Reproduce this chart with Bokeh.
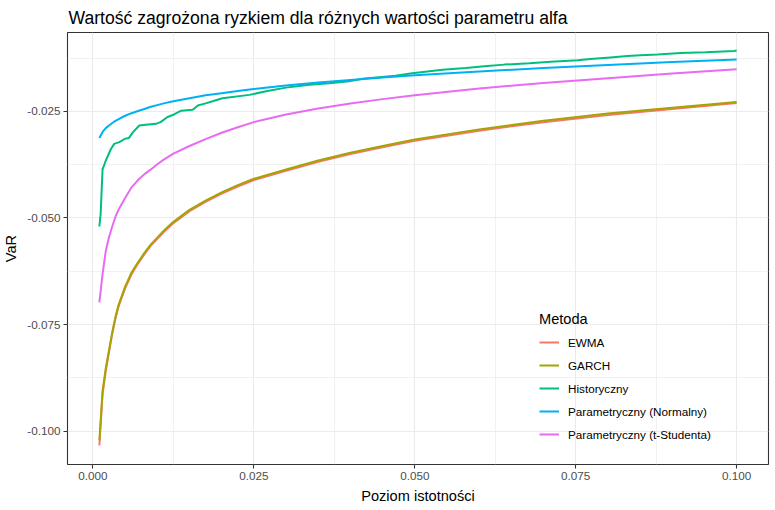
from bokeh.plotting import figure
from bokeh.models import Range1d, FixedTicker, PrintfTickFormatter, Legend, LegendItem
from bokeh.embed import file_html
from bokeh.resources import INLINE

# ---- data ----
alpha = [0.001, 0.0015, 0.002, 0.0025, 0.003, 0.0035, 0.004, 0.005, 0.006, 0.007, 0.008, 0.009, 0.010,
         0.011, 0.0125, 0.015, 0.0175, 0.020, 0.0225, 0.025, 0.030, 0.035, 0.040, 0.045, 0.050,
         0.060, 0.070, 0.080, 0.090, 0.100]

ewma = [-0.1034, -0.0914, -0.0859, -0.0815, -0.0772, -0.0736, -0.0707, -0.0665, -0.0632, -0.0607,
        -0.0585, -0.0565, -0.0549, -0.0533, -0.0512, -0.0484, -0.0462, -0.0443, -0.0426, -0.0411,
        -0.0389, -0.0368, -0.0350, -0.0334, -0.0319, -0.0295, -0.0275, -0.0258, -0.0244, -0.0230]

garch = [-0.1022, -0.0905, -0.0852, -0.0810, -0.0768, -0.0732, -0.0703, -0.0661, -0.0628, -0.0604,
         -0.0582, -0.0562, -0.0546, -0.0530, -0.0509, -0.0481, -0.0459, -0.0440, -0.0423, -0.0408,
         -0.0386, -0.0365, -0.0347, -0.0331, -0.0316, -0.0292, -0.0272, -0.0255, -0.0241, -0.0228]

normal = [-0.0312, -0.0298, -0.0289, -0.0283, -0.0277, -0.0272, -0.0268, -0.0260, -0.0254, -0.0249,
          -0.0244, -0.0239, -0.0235, -0.0231, -0.0226, -0.0219, -0.0212, -0.0207, -0.0202, -0.0197,
          -0.0189, -0.0182, -0.0176, -0.0170, -0.0165, -0.0156, -0.0148, -0.0141, -0.0134, -0.0128]

tstud = [-0.0698, -0.0631, -0.0577, -0.0545, -0.0520, -0.0497, -0.0480, -0.0453, -0.0428, -0.0411,
         -0.0397, -0.0386, -0.0374, -0.0363, -0.0349, -0.0331, -0.0315, -0.0300, -0.0287, -0.0275,
         -0.0257, -0.0243, -0.0231, -0.0221, -0.0212, -0.0196, -0.0183, -0.0172, -0.0161, -0.0151]

hist_alpha = [0.0010, 0.0012, 0.0014, 0.0015, 0.0017, 0.0020, 0.0028, 0.0033, 0.0041, 0.0050,
              0.0056, 0.0062, 0.0072, 0.0082, 0.0098, 0.0105, 0.0116, 0.0126, 0.0137, 0.0155,
              0.0163, 0.0175, 0.0186, 0.0201, 0.0243, 0.0271, 0.0300, 0.0336, 0.0367, 0.0398,
              0.0419, 0.0470, 0.0496, 0.0543, 0.0579, 0.0608, 0.0639, 0.0678, 0.0711, 0.0753,
              0.0773, 0.0804, 0.0830, 0.0851, 0.0877, 0.0913, 0.0952, 0.0996, 0.1000]
hist = [-0.0520, -0.0490, -0.0420, -0.0385, -0.0378, -0.0365, -0.0338, -0.0326, -0.0322, -0.0314,
        -0.0312, -0.0299, -0.0283, -0.0281, -0.0279, -0.0275, -0.0263, -0.0257, -0.0248, -0.0246,
        -0.0236, -0.0231, -0.0226, -0.0219, -0.0211, -0.0202, -0.0194, -0.0187, -0.0184, -0.0179,
        -0.0173, -0.0166, -0.0160, -0.0152, -0.0148, -0.0144, -0.0140, -0.0137, -0.0133, -0.0130,
        -0.0127, -0.0123, -0.0120, -0.0118, -0.0116, -0.0113, -0.0111, -0.0108, -0.0107]

methods = ["EWMA", "GARCH", "Historyczny", "Parametryczny (Normalny)", "Parametryczny (t-Studenta)"]
colors = ["#F8766D", "#A3A500", "#00BF7D", "#00B0F6", "#E76BF3"]

x_ticks = [0.000, 0.025, 0.050, 0.075, 0.100]
x_minor = [0.0125, 0.0375, 0.0625, 0.0875]
y_ticks = [-0.100, -0.075, -0.050, -0.025]
y_minor = [-0.0875, -0.0625, -0.0375, -0.0125]

FONT = "Liberation Sans"

p = figure(width=775, height=510, output_backend="svg", toolbar_location=None,
           x_range=Range1d(-0.00395, 0.10495), y_range=Range1d(-0.10786, -0.00646),
           min_border_left=67, min_border_right=7, min_border_top=32, min_border_bottom=46)

p.title.text = "Wartość zagrożona ryzkiem dla różnych wartości parametru alfa"
p.title.text_font = FONT
p.title.text_font_size = "17.6px"
p.title.text_font_style = "normal"
p.title.text_color = "#000000"
p.title.offset = 1

p.background_fill_color = "white"
p.border_fill_color = "white"
p.outline_line_color = "#333333"
p.outline_line_width = 1.1

p.xaxis.ticker = FixedTicker(ticks=x_ticks, minor_ticks=x_minor)
p.yaxis.ticker = FixedTicker(ticks=y_ticks, minor_ticks=y_minor)
p.xaxis.formatter = PrintfTickFormatter(format="%.3f")
p.yaxis.formatter = PrintfTickFormatter(format="%.3f")

for ax in (p.xaxis, p.yaxis):
    ax.axis_line_color = None
    ax.major_tick_line_color = "#333333"
    ax.major_tick_line_width = 1.1
    ax.major_tick_out = 4
    ax.major_tick_in = 0
    ax.minor_tick_line_color = None
    ax.major_label_text_font = FONT
    ax.major_label_text_font_size = "11.7px"
    ax.major_label_text_color = "#4D4D4D"
    ax.major_label_standoff = 3
    ax.axis_label_text_font = FONT
    ax.axis_label_text_font_size = "14.6px"
    ax.axis_label_text_font_style = "normal"
    ax.axis_label_text_color = "#000000"
    ax.axis_label_standoff = 5

p.xaxis.axis_label = "Poziom istotności"
p.yaxis.axis_label = "VaR"

for g in (p.xgrid, p.ygrid):
    g.grid_line_color = "#EBEBEB"
    g.grid_line_width = 1.1
    g.minor_grid_line_color = "#EBEBEB"
    g.minor_grid_line_width = 0.7

xs = [alpha, alpha, hist_alpha, alpha, alpha]
ys = [ewma, garch, hist, normal, tstud]
items = []
for name, col, xv, yv in zip(methods, colors, xs, ys):
    r = p.line(xv, yv, line_color=col, line_width=2)
    items.append(LegendItem(label=name, renderers=[r]))

legend = Legend(items=items, location=(472, 20), title="Metoda")
legend.title_text_font = FONT
legend.title_text_font_size = "14.6px"
legend.title_text_font_style = "normal"
legend.title_text_color = "#000000"
legend.title_standoff = 5
legend.label_text_font = FONT
legend.label_text_font_size = "11.7px"
legend.label_text_color = "#000000"
legend.glyph_width = 20
legend.glyph_height = 20
legend.label_height = 20
legend.label_standoff = 9
legend.spacing = 3
legend.padding = 0
legend.margin = 0
legend.border_line_color = None
legend.background_fill_alpha = 0
p.add_layout(legend, "center")

open("out.html", "w").write(file_html(p, INLINE))
